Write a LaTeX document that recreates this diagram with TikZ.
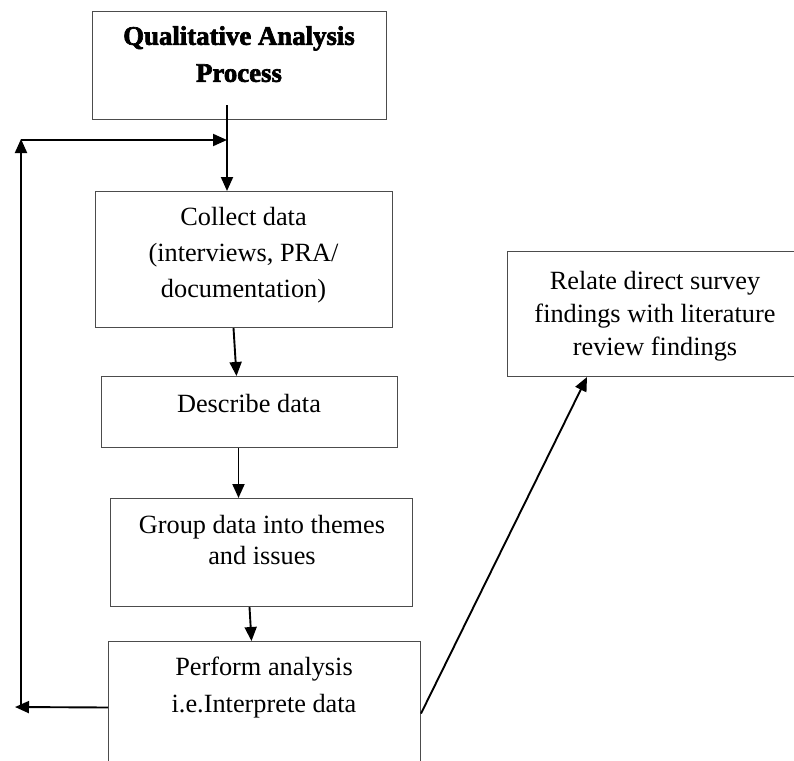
\documentclass[tikz,border=0pt]{standalone}
\usepackage{fontspec}
\setmainfont{Liberation Serif}
\newfontfamily\headfont{Liberation Serif}[BoldFeatures={FakeBold=2.5}]
\usetikzlibrary{arrows.meta}
\begin{document}
\begin{tikzpicture}[x=1pt, y=-1pt,
  box/.style={draw=black!70, line width=1pt, rectangle, inner sep=0pt, anchor=north west},
  txt/.style={anchor=north, inner sep=0pt, align=center},
  arr/.style={draw=black, line width=1.9pt, -{Triangle[length=14pt, width=12pt]}}]
  \useasboundingbox (0,0) rectangle (794,760);
  \clip (0,0) rectangle (794,760);

  % boxes
  \node[box, minimum width=294pt, minimum height=108pt] (title)    at (92,11)  {};
  \node[box, minimum width=297pt, minimum height=136pt] (collect)  at (95,191) {};
  \node[box, minimum width=296pt, minimum height=71pt]  (describe) at (101,376) {};
  \node[box, minimum width=302pt, minimum height=108pt] (group)    at (110,498) {};
  \node[box, minimum width=312pt, minimum height=132pt] (perform)  at (108,641) {};
  \node[box, minimum width=296pt, minimum height=125pt] (relate)   at (507,251) {};

  % box texts
  \node[txt, font={\headfont\bfseries\fontsize{26.8}{37}\selectfont}] (title-t) at (239,26)
    {Qualitative Analysis\\Process};
  \node[txt, font={\fontsize{26.3}{36}\selectfont}] (collect-t) at (243.5,207)
    {Collect data\\(interviews, PRA/\\documentation)};
  \node[txt, font={\fontsize{26.3}{36}\selectfont}] (describe-t) at (249,394)
    {Describe data};
  \node[txt, font={\fontsize{26.3}{31}\selectfont}] (group-t) at (262,515)
    {Group data into themes\\and issues};
  \node[txt, font={\fontsize{26.3}{37}\selectfont}] (perform-t) at (264,657)
    {Perform analysis\\i.e.Interprete data};
  \node[txt, font={\fontsize{26.3}{33}\selectfont}] (relate-t) at (655,271)
    {Relate direct survey\\findings with literature\\review findings};

  % connectors
  \coordinate (tstem) at (227,105);
  \draw[arr] (tstem) -- (tstem |- collect.north);
  \draw[arr] ([xshift=-10.5pt]collect.south) -- ([xshift=-13pt]describe.north);
  \draw[arr] ([xshift=-11pt]describe.south) -- ([xshift=-23pt]group.north);
  \draw[arr] ([xshift=-12pt]group.south) -- ([xshift=-13pt]perform.north);

  % feedback loop
  \coordinate (loopend) at (15,707);
  \coordinate (loopbot) at (21,707);
  \coordinate (looptop) at (21,139);
  \draw[arr] (perform.west) -- (loopend);
  \draw[arr] (loopbot) -- (looptop);
  \draw[arr] ([yshift=-1pt]looptop) -- ([yshift=-1pt]looptop -| tstem);

  % link to literature review
  \draw[arr] ([yshift=-6pt]perform.east) -- ([xshift=80pt]relate.south west);
\end{tikzpicture}
\end{document}
